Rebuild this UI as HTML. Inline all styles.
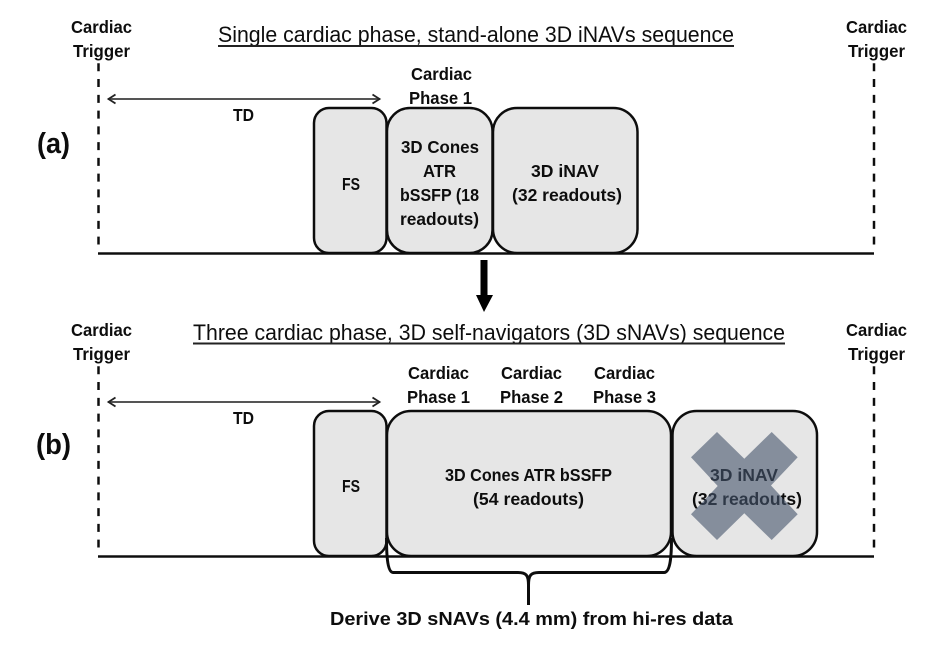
<!DOCTYPE html>
<html>
<head>
<meta charset="utf-8">
<style>
html,body{margin:0;padding:0;background:#fff;width:939px;height:647px;overflow:hidden}
svg{display:block}
text{font-family:"Liberation Sans",sans-serif;fill:#111}
.b{font-weight:bold;font-size:17.5px}
.t{font-size:22px}
</style>
</head>
<body>
<svg width="939" height="647" viewBox="0 0 939 647" xmlns="http://www.w3.org/2000/svg">
<defs>
<marker id="arr" markerWidth="12" markerHeight="12" refX="9" refY="6" orient="auto-start-reverse" markerUnits="userSpaceOnUse">
<path d="M1.500,1.500 L8.500,6 L1.500,10.500" fill="none" stroke="#222" stroke-width="1.800"/>
</marker>
<filter id="soft" x="0" y="0" width="100%" height="100%"><feGaussianBlur stdDeviation="0.35"/></filter>
</defs>
<g filter="url(#soft)">

<!-- Panel (a) -->
<text class="b" x="71" y="33" textLength="61" lengthAdjust="spacingAndGlyphs">Cardiac</text>
<text class="b" x="73" y="57" textLength="57" lengthAdjust="spacingAndGlyphs">Trigger</text>
<text class="b" x="846" y="33" textLength="61" lengthAdjust="spacingAndGlyphs">Cardiac</text>
<text class="b" x="848" y="57" textLength="57" lengthAdjust="spacingAndGlyphs">Trigger</text>
<text class="t" x="218" y="42" textLength="516" lengthAdjust="spacingAndGlyphs">Single cardiac phase, stand-alone 3D iNAVs sequence</text>
<line x1="218" y1="46" x2="734" y2="46" stroke="#222" stroke-width="2"/>
<line x1="98.500" y1="63.300" x2="98.500" y2="244.500" stroke="#111" stroke-width="2.500" stroke-dasharray="8 7.760"/>
<line x1="874" y1="63.300" x2="874" y2="244.500" stroke="#111" stroke-width="2.500" stroke-dasharray="8 7.760"/>
<line x1="108" y1="99" x2="380" y2="99" stroke="#555" stroke-width="2" marker-start="url(#arr)" marker-end="url(#arr)"/>
<text class="b" x="233" y="121" textLength="21" lengthAdjust="spacingAndGlyphs">TD</text>
<text x="37" y="153" font-size="29" font-weight="bold" textLength="33" lengthAdjust="spacingAndGlyphs">(a)</text>
<text class="b" x="411" y="80" textLength="61" lengthAdjust="spacingAndGlyphs">Cardiac</text>
<text class="b" x="409" y="104" textLength="63" lengthAdjust="spacingAndGlyphs">Phase 1</text>

<rect x="314" y="108" width="72.500" height="145" rx="15" fill="#e6e6e6" stroke="#111" stroke-width="2.500"/>
<rect x="387" y="108" width="105.500" height="145" rx="23" fill="#e6e6e6" stroke="#111" stroke-width="2.500"/>
<rect x="493" y="108" width="144.500" height="145" rx="24" fill="#e6e6e6" stroke="#111" stroke-width="2.500"/>
<line x1="98" y1="253.500" x2="874" y2="253.500" stroke="#111" stroke-width="2.500"/>
<text class="b" x="342" y="190" textLength="18" lengthAdjust="spacingAndGlyphs">FS</text>
<text class="b" x="401" y="153" textLength="78" lengthAdjust="spacingAndGlyphs">3D Cones</text>
<text class="b" x="423" y="177" textLength="33" lengthAdjust="spacingAndGlyphs">ATR</text>
<text class="b" x="400" y="201" textLength="79" lengthAdjust="spacingAndGlyphs">bSSFP (18</text>
<text class="b" x="400" y="225" textLength="79" lengthAdjust="spacingAndGlyphs">readouts)</text>
<text class="b" x="531" y="177" textLength="68" lengthAdjust="spacingAndGlyphs">3D iNAV</text>
<text class="b" x="512" y="201" textLength="110" lengthAdjust="spacingAndGlyphs">(32 readouts)</text>

<!-- Transition arrow -->
<polygon points="480.500,260 487.500,260 487.500,295 493,295 484,312 476,295 480.500,295" fill="#000"/>

<!-- Panel (b) -->
<text class="b" x="71" y="336" textLength="61" lengthAdjust="spacingAndGlyphs">Cardiac</text>
<text class="b" x="73" y="360" textLength="57" lengthAdjust="spacingAndGlyphs">Trigger</text>
<text class="b" x="846" y="336" textLength="61" lengthAdjust="spacingAndGlyphs">Cardiac</text>
<text class="b" x="848" y="360" textLength="57" lengthAdjust="spacingAndGlyphs">Trigger</text>
<text class="t" x="193" y="340" textLength="592" lengthAdjust="spacingAndGlyphs">Three cardiac phase, 3D self-navigators (3D sNAVs) sequence</text>
<line x1="193" y1="343.500" x2="785" y2="343.500" stroke="#222" stroke-width="2"/>
<line x1="98.500" y1="366.300" x2="98.500" y2="547.500" stroke="#111" stroke-width="2.500" stroke-dasharray="8 7.760"/>
<line x1="874" y1="366.300" x2="874" y2="547.500" stroke="#111" stroke-width="2.500" stroke-dasharray="8 7.760"/>
<line x1="108" y1="402" x2="380" y2="402" stroke="#555" stroke-width="2" marker-start="url(#arr)" marker-end="url(#arr)"/>
<text class="b" x="233" y="424" textLength="21" lengthAdjust="spacingAndGlyphs">TD</text>
<text x="36" y="454" font-size="29" font-weight="bold" textLength="35" lengthAdjust="spacingAndGlyphs">(b)</text>
<text class="b" x="408" y="379" textLength="61" lengthAdjust="spacingAndGlyphs">Cardiac</text>
<text class="b" x="407" y="403" textLength="63" lengthAdjust="spacingAndGlyphs">Phase 1</text>
<text class="b" x="501" y="379" textLength="61" lengthAdjust="spacingAndGlyphs">Cardiac</text>
<text class="b" x="500" y="403" textLength="63" lengthAdjust="spacingAndGlyphs">Phase 2</text>
<text class="b" x="594" y="379" textLength="61" lengthAdjust="spacingAndGlyphs">Cardiac</text>
<text class="b" x="593" y="403" textLength="63" lengthAdjust="spacingAndGlyphs">Phase 3</text>

<rect x="314" y="411" width="72.500" height="145" rx="15" fill="#e6e6e6" stroke="#111" stroke-width="2.500"/>
<rect x="387" y="411" width="284" height="145" rx="24" fill="#e6e6e6" stroke="#111" stroke-width="2.500"/>
<rect x="672.500" y="411" width="144.500" height="145" rx="24" fill="#e6e6e6" stroke="#111" stroke-width="2.500"/>
<line x1="98" y1="556.500" x2="874" y2="556.500" stroke="#111" stroke-width="2.500"/>
<text class="b" x="342" y="492" textLength="18" lengthAdjust="spacingAndGlyphs">FS</text>
<text class="b" x="445" y="481" textLength="167" lengthAdjust="spacingAndGlyphs">3D Cones ATR bSSFP</text>
<text class="b" x="473" y="505" textLength="111" lengthAdjust="spacingAndGlyphs">(54 readouts)</text>
<text class="b" x="710" y="481" textLength="68" lengthAdjust="spacingAndGlyphs">3D iNAV</text>
<text class="b" x="692" y="505" textLength="110" lengthAdjust="spacingAndGlyphs">(32 readouts)</text>
<polygon points="717,432 744.300,458.700 771.700,432 797.700,457.300 771,485.500 797.700,514.300 771.700,540 744.300,513.300 717,540 691,514.300 717.700,486 691,457.300" fill="#44546a" fill-opacity="0.6"/>

<!-- Brace -->
<path d="M386.500,538 C386.500,552 387,572 393,572.500 L518,572.500 C526,572.500 528.500,575 528.500,585 L528.500,605 M528.500,585 C528.500,575 531,572.500 539,572.500 L664,572.500 C671,572.500 671.500,552 671.500,538" fill="none" stroke="#111" stroke-width="3"/>
<text x="330" y="625" font-size="18.5" font-weight="bold" textLength="403" lengthAdjust="spacingAndGlyphs">Derive 3D sNAVs (4.4 mm) from hi-res data</text>
</g>
</svg>
</body>
</html>
